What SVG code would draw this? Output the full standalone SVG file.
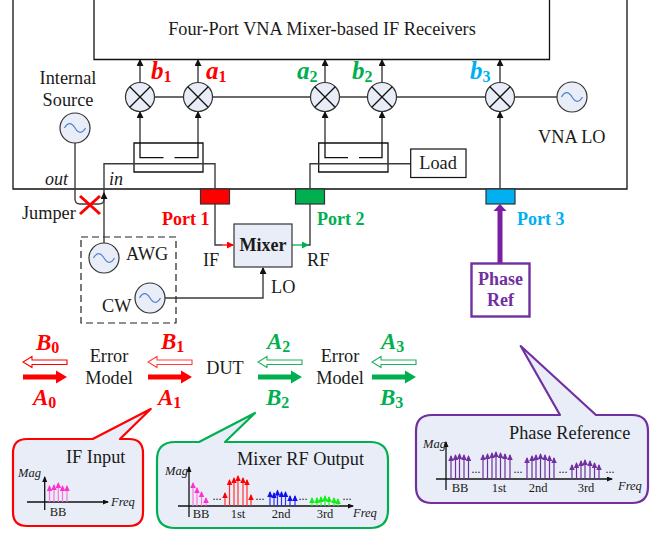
<svg xmlns="http://www.w3.org/2000/svg" width="665" height="533" viewBox="0 0 665 533">
<style>
text{font-family:"Liberation Serif","Times New Roman",serif;fill:#1a1a1a;font-size:18.300px}
.c{text-anchor:middle}
.lab{font-weight:bold;font-style:italic;font-size:25px}
.sub{font-weight:bold;font-style:normal;font-size:16px}
.cap{font-weight:bold;font-style:italic;font-size:23px}
.port{font-weight:bold;font-size:18px}
.it{font-style:italic;font-size:18px}
.ax{font-style:italic;font-size:12.500px}
.tk{font-size:12.500px}
.dots{font-size:12px}
.red{fill:#ff0000}.grn{fill:#00b050}.blu{fill:#00b0f0}.pur{fill:#7030a0}
.ln{fill:none;stroke:#3c3c3c;stroke-width:1.4}
.lnk{fill:none;stroke:#111;stroke-width:1.3}
.mx{fill:#e8edf7;stroke:#333;stroke-width:1.2}
.wave{fill:none;stroke:#4a7fd0;stroke-width:1.2}
.call{fill:#e8edf7;stroke-width:2.2;stroke-linejoin:round}
.s{stroke-width:1.2;fill:none}
.pk{stroke:#ff70dc}.rd{stroke:#ff3030}.bl{stroke:#3030f0}.gr{stroke:#30f030}.pu{stroke:#7030a0}
</style>
<defs>
<marker id="ah" markerUnits="userSpaceOnUse" markerWidth="10" markerHeight="10" refX="6" refY="3.5" orient="auto"><path d="M0 0L7 3.5L0 7Z" fill="#111"/></marker>
<marker id="ahr" markerUnits="userSpaceOnUse" markerWidth="10" markerHeight="10" refX="6" refY="3.5" orient="auto"><path d="M0 0L7 3.5L0 7Z" fill="#ff0000"/></marker>
<marker id="ahg" markerUnits="userSpaceOnUse" markerWidth="10" markerHeight="10" refX="6" refY="3.5" orient="auto"><path d="M0 0L7 3.5L0 7Z" fill="#00b050"/></marker>
<marker id="sa" markerUnits="userSpaceOnUse" markerWidth="7" markerHeight="7" refX="5" refY="2.500" orient="auto"><path d="M0 0L6 2.500L0 5Z" fill="#111"/></marker>
<marker id="mpk" markerUnits="userSpaceOnUse" markerWidth="7" markerHeight="7" refX="5" refY="2.750" orient="auto"><path d="M0 0L6 2.750L0 5.500Z" fill="#ff30d0"/></marker>
<marker id="mrd" markerUnits="userSpaceOnUse" markerWidth="7" markerHeight="7" refX="5" refY="2.750" orient="auto"><path d="M0 0L6 2.750L0 5.500Z" fill="#ff0000"/></marker>
<marker id="mbl" markerUnits="userSpaceOnUse" markerWidth="7" markerHeight="7" refX="5" refY="2.750" orient="auto"><path d="M0 0L6 2.750L0 5.500Z" fill="#1010f0"/></marker>
<marker id="mgr" markerUnits="userSpaceOnUse" markerWidth="7" markerHeight="7" refX="5" refY="2.750" orient="auto"><path d="M0 0L6 2.750L0 5.500Z" fill="#10f010"/></marker>
<marker id="mpu" markerUnits="userSpaceOnUse" markerWidth="7" markerHeight="7" refX="5" refY="2.750" orient="auto"><path d="M0 0L6 2.750L0 5.500Z" fill="#7030a0"/></marker>
<g id="mix"><circle r="14.500" class="mx"/><path d="M-10.200-10.200L10.200 10.200M-10.200 10.200L10.200-10.200" stroke="#111" stroke-width="1.300"/></g>
<g id="osc"><circle r="15" class="mx"/><path class="wave" d="M-10.500 0C-7-6-3.500-5.500 0 0S7 6 10.500 0"/></g>
</defs>

<g id="vna"><path class="lnk" d="M13-2V189H627V-2"/></g>
<g id="receivers"><path class="lnk" d="M94-2V59.500H549.500V-2"/><text class="c" x="322" y="35">Four-Port VNA Mixer-based IF Receivers</text></g>

<g id="connectors">
<path class="ln" d="M140 143V112" marker-end="url(#ah)"/><path class="ln" d="M198 143V112" marker-end="url(#ah)"/><path class="ln" d="M325 143V112" marker-end="url(#ah)"/><path class="ln" d="M382 143V112" marker-end="url(#ah)"/><path class="ln" d="M500 189V112" marker-end="url(#ah)"/>
<path class="ln" d="M140 82.500V60" marker-end="url(#ah)"/><path class="ln" d="M198 82.500V60" marker-end="url(#ah)"/><path class="ln" d="M325 82.500V60" marker-end="url(#ah)"/><path class="ln" d="M382 82.500V60" marker-end="url(#ah)"/><path class="ln" d="M500 82.500V60" marker-end="url(#ah)"/>
<path class="ln" d="M154.500 97H183.500M212.500 97H310.500M339.500 97H367.500M396.500 97H485.500M514.500 97H557"/>
<path class="lnk" d="M140 143V157.700H163.500M174.500 157.700H198V143M325 143V157.700H348M359 157.700H382V143"/>
<path class="lnk" d="M134 143H203V172H134ZM318.700 143H388V172H318.700Z"/>
<path class="ln" d="M215 189V163.700H104V243"/>
<path class="ln" d="M310 189V163.700H411"/>
<path class="ln" d="M75 143V199Q75 204 80 204H99Q104 204 104 199V193" marker-end="url(#ah)"/>
<path class="ln" d="M215 204V245H222"/>
<path d="M222 245H233" fill="none" stroke="#ff0000" stroke-width="1.300" marker-end="url(#ahr)"/>
<path class="ln" d="M310 204V245H303"/>
<path d="M292 245H308" fill="none" stroke="#00b050" stroke-width="1.300" marker-end="url(#ahg)"/>
<path class="ln" d="M165 298H263V268" marker-end="url(#ah)"/>
<path d="M500 263V210" fill="none" stroke="#7b1fa2" stroke-width="5"/><path d="M493.500 211L500 204L506.500 211Z" fill="#7b1fa2"/>
</g>

<g id="mixer-b1"><use href="#mix" x="140" y="97"/></g>
<g id="mixer-a1"><use href="#mix" x="198" y="97"/></g>
<g id="mixer-a2"><use href="#mix" x="325" y="97"/></g>
<g id="mixer-b2"><use href="#mix" x="382" y="97"/></g>
<g id="mixer-b3"><use href="#mix" x="500" y="97"/></g>
<g id="vna-lo"><use href="#osc" x="572" y="97"/><text x="538" y="143">VNA LO</text></g>
<g id="internal-source"><use href="#osc" x="75" y="128"/><text class="c" x="68" y="84">Internal</text><text class="c" x="68" y="106">Source</text></g>
<g id="load"><rect x="410.700" y="149" width="55.300" height="28.500" fill="#fff" stroke="#111" stroke-width="1.200"/><text class="c" x="438" y="169">Load</text></g>

<g id="port1"><rect x="200.500" y="189" width="29" height="15" fill="#ff0000" stroke="#333" stroke-width="1.200"/><text class="port red" x="162" y="225">Port 1</text></g>
<g id="port2"><rect x="295.500" y="189" width="29" height="15" fill="#00b050" stroke="#333" stroke-width="1.200"/><text class="port grn" x="317" y="225">Port 2</text></g>
<g id="port3"><rect x="486" y="189" width="29" height="15" fill="#00b0f0" stroke="#333" stroke-width="1.200"/><text class="port blu" x="517" y="225">Port 3</text></g>

<g id="wave-labels">
<text class="lab red" x="151" y="79">b<tspan class="sub red" dy="3">1</tspan></text>
<text class="lab red" x="206" y="79">a<tspan class="sub red" dy="3">1</tspan></text>
<text class="lab grn" x="297" y="79">a<tspan class="sub grn" dy="3">2</tspan></text>
<text class="lab grn" x="352" y="79">b<tspan class="sub grn" dy="3">2</tspan></text>
<text class="lab blu" x="470" y="79">b<tspan class="sub blu" dy="3">3</tspan></text>
</g>
<text class="it" x="45" y="185">out</text>
<text class="it" x="109" y="185">in</text>

<g id="jumper"><text x="22" y="219">Jumper</text><path d="M80 196L100 214M100 196L80 214" stroke="#ff0000" stroke-width="3" fill="none"/></g>
<g id="sources"><rect x="81" y="237" width="95" height="86" fill="none" stroke="#222" stroke-width="1.200" stroke-dasharray="7 4"/></g>
<g id="awg"><use href="#osc" x="104" y="258"/><text x="126" y="260">AWG</text></g>
<g id="cw"><use href="#osc" x="150" y="298"/><text x="102" y="312">CW</text></g>
<g id="mixer"><rect x="234" y="224" width="58" height="43" fill="#e8edf7" stroke="#333" stroke-width="1.200"/><text class="c" x="263" y="251" style="font-size:18px;font-weight:bold">Mixer</text></g>
<text x="203" y="266">IF</text><text x="307" y="266">RF</text><text x="271" y="293">LO</text>
<g id="phase-ref"><rect x="471.500" y="263.500" width="58" height="53" fill="#fff" stroke="#7030a0" stroke-width="2.400"/><text class="c pur port" x="500.500" y="285">Phase</text><text class="c pur port" x="500.500" y="306">Ref</text></g>

<g id="flow">
<path d="M67 360V364.500H32V367.500L23 362L32 356.500V360Z" fill="#fff" stroke="#ff0000" stroke-width="1.100"/>
<path d="M23 374.500H56V370.500L67 377L56 383.500V379.500H23Z" fill="#ff0000"/>
<path d="M192 360V364.500H157V367.500L148 362L157 356.500V360Z" fill="#fff" stroke="#ff4040" stroke-width="1.100"/>
<path d="M148 374.500H181V370.500L192 377L181 383.500V379.500H148Z" fill="#ff0000"/>
<path d="M302 360V364.500H267V367.500L258 362L267 356.500V360Z" fill="#fff" stroke="#20b060" stroke-width="1.100"/>
<path d="M258 374.500H291V370.500L302 377L291 383.500V379.500H258Z" fill="#00b050"/>
<path d="M416 360V364.500H381V367.500L372 362L381 356.500V360Z" fill="#fff" stroke="#20b060" stroke-width="1.100"/>
<path d="M372 374.500H405V370.500L416 377L405 383.500V379.500H372Z" fill="#00b050"/>
<text class="cap red" x="36" y="350">B<tspan class="sub red" dy="3">0</tspan></text>
<text class="cap red" x="33" y="405">A<tspan class="sub red" dy="3">0</tspan></text>
<text class="cap red" x="161" y="349">B<tspan class="sub red" dy="3">1</tspan></text>
<text class="cap red" x="158" y="405">A<tspan class="sub red" dy="3">1</tspan></text>
<text class="cap grn" x="267" y="349">A<tspan class="sub grn" dy="3">2</tspan></text>
<text class="cap grn" x="266" y="405">B<tspan class="sub grn" dy="3">2</tspan></text>
<text class="cap grn" x="381" y="349">A<tspan class="sub grn" dy="3">3</tspan></text>
<text class="cap grn" x="380" y="405">B<tspan class="sub grn" dy="3">3</tspan></text>
<text class="c" x="109" y="362">Error</text><text class="c" x="109" y="384">Model</text>
<text class="c" x="225" y="374">DUT</text>
<text class="c" x="340" y="362">Error</text><text class="c" x="340" y="384">Model</text>
</g>

<g id="if-input">
<path class="call" stroke="#ff0000" d="M27 439H92.700L150.700 409L120 439H129Q143 439 143 453V512Q143 526 129 526H27Q13 526 13 512V453Q13 439 27 439Z"/>
<text x="66" y="463">IF Input</text>
<path class="lnk" d="M27 502H108" marker-end="url(#sa)"/><path class="lnk" d="M44.700 510V477" marker-end="url(#sa)"/>
<text class="ax" x="18" y="477">Mag</text><text class="ax" x="111" y="506">Freq</text><text class="tk c" x="58" y="516">BB</text>
<g class="s pk">
<path d="M49.500 502V486" marker-end="url(#mpk)"/><path d="M54 502V485" marker-end="url(#mpk)"/><path d="M58.300 502V483" marker-end="url(#mpk)"/><path d="M62.500 502V486" marker-end="url(#mpk)"/><path d="M67 502V486" marker-end="url(#mpk)"/>
</g>
</g>

<g id="mixer-rf-output">
<path class="call" stroke="#00b050" d="M175 442H199L255 413L225 442H370Q388 442 388 460V510Q388 528 370 528H175Q157 528 157 510V460Q157 442 175 442Z"/>
<text x="237" y="465">Mixer RF Output</text>
<path class="lnk" d="M178 506H353" marker-end="url(#sa)"/><path class="lnk" d="M189 517V467" marker-end="url(#sa)"/>
<text class="ax" x="165" y="475">Mag</text><text class="ax" x="353" y="517">Freq</text>
<text class="tk c" x="201" y="518">BB</text><text class="tk c" x="238" y="518">1st</text><text class="tk c" x="281" y="518">2nd</text><text class="tk c" x="325" y="518">3rd</text>
<text class="dots c" x="217" y="500">...</text><text class="dots c" x="260" y="500">...</text><text class="dots c" x="303" y="500">...</text><text class="dots c" x="347" y="500">...</text>
<g class="s pk"><path d="M193 506V483" marker-end="url(#mpk)"/><path d="M197 506V488" marker-end="url(#mpk)"/><path d="M201.500 506V492" marker-end="url(#mpk)"/><path d="M206 506V498" marker-end="url(#mpk)"/></g>
<g class="s rd"><path d="M225 506V493" marker-end="url(#mrd)"/><path d="M229.500 506V480" marker-end="url(#mrd)"/><path d="M234 506V478" marker-end="url(#mrd)"/><path d="M238 506V476" marker-end="url(#mrd)"/><path d="M243 506V478" marker-end="url(#mrd)"/><path d="M247 506V480" marker-end="url(#mrd)"/><path d="M251 506V495" marker-end="url(#mrd)"/></g>
<g class="s bl"><path d="M270 506V492" marker-end="url(#mbl)"/><path d="M274 506V493" marker-end="url(#mbl)"/><path d="M277.500 506V490.500" marker-end="url(#mbl)"/><path d="M281.500 506V492" marker-end="url(#mbl)"/><path d="M285.500 506V492" marker-end="url(#mbl)"/><path d="M290 506V496" marker-end="url(#mbl)"/><path d="M295 506V496" marker-end="url(#mbl)"/></g>
<g class="s gr"><path d="M312 506V498" marker-end="url(#mgr)"/><path d="M317 506V498" marker-end="url(#mgr)"/><path d="M321 506V497" marker-end="url(#mgr)"/><path d="M325 506V496" marker-end="url(#mgr)"/><path d="M329 506V497" marker-end="url(#mgr)"/><path d="M334 506V498" marker-end="url(#mgr)"/><path d="M338 506V499" marker-end="url(#mgr)"/></g>
</g>

<g id="phase-reference">
<path class="call" stroke="#7030a0" d="M432 415H560L520.700 346L596 415H632Q648 415 648 431V487Q648 503 632 503H432Q416 503 416 487V431Q416 415 432 415Z"/>
<text x="509" y="439">Phase Reference</text>
<path class="lnk" d="M436 479H612" marker-end="url(#sa)"/><path class="lnk" d="M446 490V442" marker-end="url(#sa)"/>
<text class="ax" x="423" y="448">Mag</text><text class="ax" x="618" y="490">Freq</text>
<text class="tk c" x="460" y="492">BB</text><text class="tk c" x="499" y="492">1st</text><text class="tk c" x="538" y="492">2nd</text><text class="tk c" x="586" y="492">3rd</text>
<text class="dots c" x="476" y="473">...</text><text class="dots c" x="518" y="473">...</text><text class="dots c" x="563" y="473">...</text><text class="dots c" x="610" y="473">...</text>
<g class="s pu">
<path d="M451 479V456" marker-end="url(#mpu)"/><path d="M455.500 479V455" marker-end="url(#mpu)"/><path d="M459.500 479V454" marker-end="url(#mpu)"/><path d="M464 479V455" marker-end="url(#mpu)"/><path d="M468.500 479V456" marker-end="url(#mpu)"/>
<path d="M483 479V455" marker-end="url(#mpu)"/><path d="M487.500 479V454" marker-end="url(#mpu)"/><path d="M492 479V453" marker-end="url(#mpu)"/><path d="M496 479V452" marker-end="url(#mpu)"/><path d="M500.500 479V453" marker-end="url(#mpu)"/><path d="M505 479V454" marker-end="url(#mpu)"/><path d="M510 479V455" marker-end="url(#mpu)"/>
<path d="M527 479V458" marker-end="url(#mpu)"/><path d="M532 479V456" marker-end="url(#mpu)"/><path d="M536 479V455" marker-end="url(#mpu)"/><path d="M540.500 479V454" marker-end="url(#mpu)"/><path d="M545 479V455" marker-end="url(#mpu)"/><path d="M549.500 479V456" marker-end="url(#mpu)"/><path d="M554 479V458" marker-end="url(#mpu)"/>
<path d="M572 479V465" marker-end="url(#mpu)"/><path d="M576.500 479V463" marker-end="url(#mpu)"/><path d="M581 479V461" marker-end="url(#mpu)"/><path d="M585 479V460" marker-end="url(#mpu)"/><path d="M590 479V461" marker-end="url(#mpu)"/><path d="M594.500 479V463" marker-end="url(#mpu)"/><path d="M599 479V465" marker-end="url(#mpu)"/>
</g>
</g>
</svg>
